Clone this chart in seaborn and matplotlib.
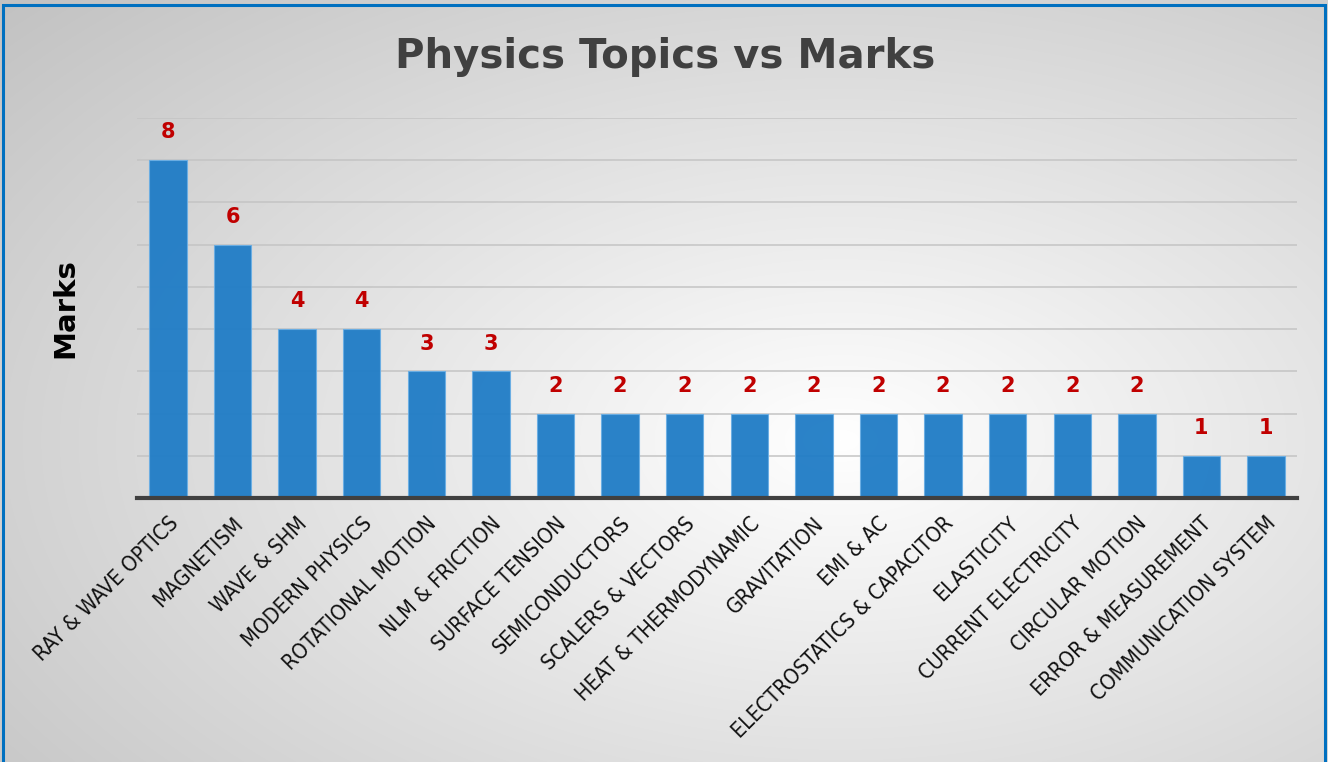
import numpy as np
import pandas as pd
import matplotlib
matplotlib.use("Agg")
import matplotlib.pyplot as plt
import seaborn as sns
from matplotlib import font_manager
from matplotlib.patches import Rectangle

topics = ["RAY & WAVE OPTICS", "MAGNETISM", "WAVE & SHM", "MODERN PHYSICS",
          "ROTATIONAL MOTION", "NLM & FRICTION", "SURFACE TENSION", "SEMICONDUCTORS",
          "SCALERS & VECTORS", "HEAT & THERMODYNAMIC", "GRAVITATION", "EMI & AC",
          "ELECTROSTATICS & CAPACITOR", "ELASTICITY", "CURRENT ELECTRICITY",
          "CIRCULAR MOTION", "ERROR & MEASUREMENT", "COMMUNICATION SYSTEM"]
marks = [8, 6, 4, 4, 3, 3, 2, 2, 2, 2, 2, 2, 2, 2, 2, 2, 1, 1]

sns.set_style("white")
names = {f.name for f in font_manager.fontManager.ttflist}
if "Liberation Sans Narrow" in names:
    tick_font = dict(family="Liberation Sans Narrow")
else:
    tick_font = dict(family="DejaVu Sans", fontstretch="condensed")
plt.rcParams['font.family'] = ['DejaVu Sans']

df = pd.DataFrame({"topic": topics, "marks": marks})

fig = plt.figure(figsize=(13.28, 7.62), dpi=100)

# radial gradient background
bg = fig.add_axes([0, 0, 1, 1], zorder=-10)
h, w = 762, 1328
yy, xx = np.mgrid[0:h, 0:w]
cx, cy = 840, 440
d = np.sqrt(((xx - cx) / w) ** 2 + ((yy - cy) / h) ** 2)
d = d / d.max()
val = 1.0 - 0.24 * d ** 1.0
img = np.dstack([val, val, val])
bg.imshow(img, aspect='auto', extent=[0, 1, 0, 1], origin='upper')
bg.set_axis_off()

ax = fig.add_axes([137 / 1328, 1 - 498 / 762, 1160 / 1328, 380 / 762])
ax.patch.set_alpha(0)
sns.barplot(data=df, x="topic", y="marks", ax=ax, color="#1f7cc6", width=0.58,
            edgecolor="#6aaee4", linewidth=0.8, alpha=0.95, saturation=1)
ax.set_ylim(0, 9)
ax.set_xlim(-0.48, len(topics) - 0.52)
ax.set_yticks(np.arange(1, 10))
ax.set_yticklabels([])
ax.tick_params(axis='y', length=0)
ax.yaxis.grid(True, color="#c4c4c4", linewidth=1.1)
ax.set_axisbelow(True)
for s in ["top", "right", "left"]:
    ax.spines[s].set_visible(False)
ax.spines["bottom"].set_color("#404040")
ax.spines["bottom"].set_linewidth(3)
ax.tick_params(axis='x', length=0, pad=11)
ax.set_xticks(range(len(topics)))
ax.set_xticklabels(topics, rotation=45, ha='right', rotation_mode='anchor',
                   fontsize=15.5, color="#111111", **tick_font)
ax.set_xlabel("")
ax.set_ylabel("Marks", fontsize=21, fontweight='bold', color='black', labelpad=38)

for i, v in enumerate(marks):
    ax.annotate(str(v), (i, v), xytext=(0, 20), textcoords='offset points',
                ha='center', va='center', fontsize=15, fontweight='bold', color='#c00000')

fig.text(665 / 1328, 1 - 57 / 762, "Physics Topics vs Marks", ha='center', va='center',
         fontsize=29, fontweight='bold', color='#404040')

fig.patches.append(Rectangle((3 / 1328, -0.01), 1322 / 1328, 1 - 5 / 762 + 0.01,
                             transform=fig.transFigure, fill=False,
                             edgecolor='#0070c0', linewidth=2.2, zorder=100))

fig.savefig("out.png", dpi=100)
